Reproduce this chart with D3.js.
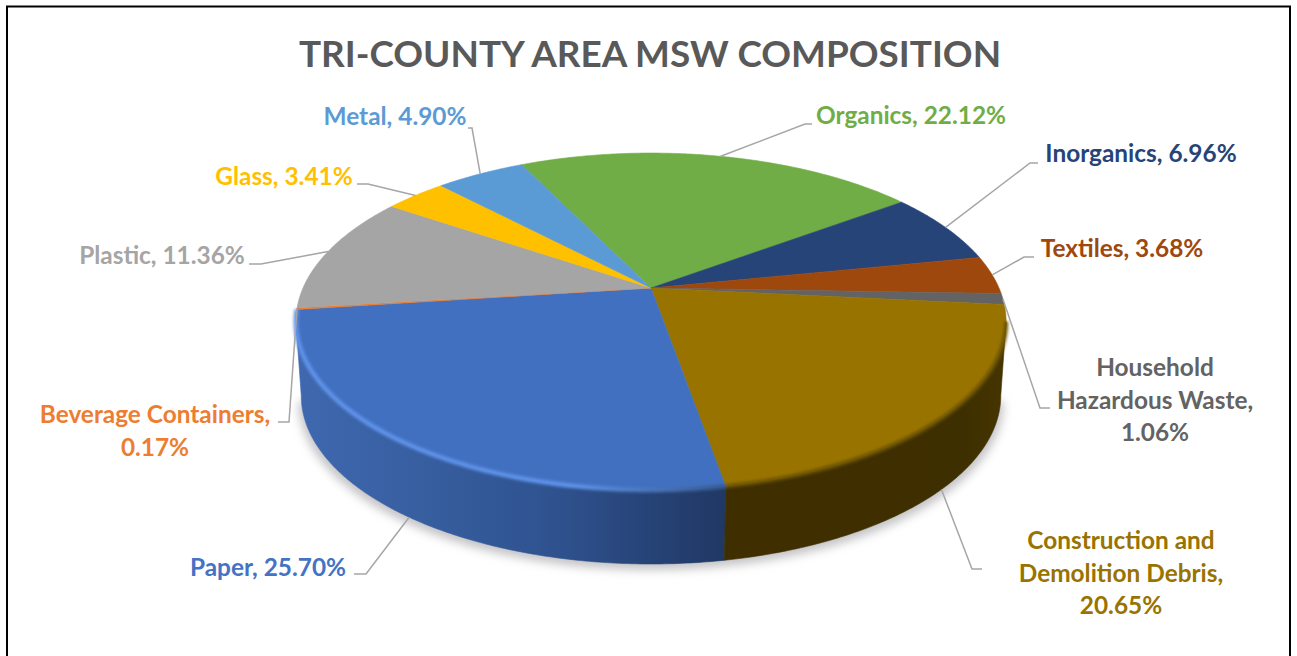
<!DOCTYPE html>
<html>
<head>
<meta charset="utf-8">
<script src="https://cdn.jsdelivr.net/npm/d3@7"></script>
<style>
  html, body { margin: 0; padding: 0; background: #fff; overflow: hidden; }
  text { font-family: Lato, "Open Sans", sans-serif; font-weight: 700; }
</style>
</head>
<body>
<div id="chart"></div>
<script>
const titleText = "TRI-COUNTY AREA MSW COMPOSITION";
const categories = ["Organics", "Inorganics", "Textiles", "Household Hazardous Waste", "Construction and Demolition Debris", "Paper", "Beverage Containers", "Plastic", "Glass", "Metal"];
const percents = [22.12, 6.96, 3.68, 1.06, 20.65, 25.70, 0.17, 11.36, 3.41, 4.90];
const sliceColors = ["#70ad47", "#264478", "#9e480e", "#636363", "#997300", "#4170c0", "#ed7d31", "#a5a5a5", "#ffc000", "#5b9bd5"];
// wrapped label text, same order as categories
const labelLines = [
    ["Organics, 22.12%"], ["Inorganics, 6.96%"], ["Textiles, 3.68%"],
    ["Household", "Hazardous Waste,", "1.06%"],
    ["Construction and", "Demolition Debris,", "20.65%"],
    ["Paper, 25.70%"], ["Beverage Containers,", "0.17%"],
    ["Plastic, 11.36%"], ["Glass, 3.41%"], ["Metal, 4.90%"]
];
// label centre x / first baseline y, then the leader elbow and where it stops
const labelX = [911, 1141, 1122, 1155, 1121, 268, 155, 162, 284, 395];
const labelY = [124, 162, 257, 376, 549, 576, 423, 264, 185, 125];
const elbows = [[805, 124], [1030, 163], [1024, 257], [1040, 408], [972, 569], [366, 574], [289, 422], [261, 264], [368, 184], [472, 128]];
const leaderEnds = [[812, 124], [1038, 163], [1034, 257], [1050, 408], [982, 569], [354, 574], [278, 422], [249, 264], [357, 184], [468, 128]];

const width = 1297, height = 656;

const svg = d3.select("#chart").append("svg")
    .attr("width", width)
    .attr("height", height);

const defs = svg.append("defs");
defs.append("filter").attr("id", "soft").attr("x", "-10%").attr("y", "-10%").attr("width", "120%").attr("height", "120%")
    .append("feGaussianBlur").attr("stdDeviation", 5);
defs.append("filter").attr("id", "rimBlur").attr("x", "-10%").attr("y", "-10%").attr("width", "120%").attr("height", "120%")
    .append("feGaussianBlur").attr("stdDeviation", 1.4);

// Frame, cropped at the bottom edge
svg.append("path")
    .attr("d", `M7,${height}V6.5H1290V${height}`)
    .attr("fill", "none")
    .attr("stroke", "#000")
    .attr("stroke-width", 2);

svg.append("text")
    .attr("x", 650)
    .attr("y", 67)
    .attr("text-anchor", "middle")
    .attr("font-size", 36.9)
    .attr("fill", "#595959")
    .text(titleText);

// Perspective tilt of the disc: the centre sits above the middle of the ellipse
const cx = 651, cy = 288, rx = 348, ry = 161.8, persp = 0.199, depth = 74;

function rim(a, r = 1) {
    const u = Math.sin(a) * r, v = -Math.cos(a) * r;
    const d = 1 - persp * v;
    return [cx + rx * u / d, cy + ry * v / d];
}
function rimBottom(a) {
    const [x, y] = rim(a);
    return [cx + (x - cx) * 0.985, y + depth];
}
function arcPoints(a0, a1, fn = rim) {
    const n = Math.max(2, Math.ceil(Math.abs(a1 - a0) / 0.01));
    return d3.range(n + 1).map(i => fn(a0 + (a1 - a0) * i / n));
}

const toRad = Math.PI / 180;
const pie = d3.pie().sort(null).startAngle(-26 * toRad).endAngle(334 * toRad);
const slices = pie(percents);
const line = d3.line();

// wall is only visible between the two silhouette points
const wallFrom = Math.acos(-persp), wallTo = 2 * Math.PI - Math.acos(-persp);

// Soft shadow under the disc
svg.append("path")
    .attr("d", line(arcPoints(wallFrom, wallTo, a => {
        const [x, y] = rimBottom(a);
        return [x + (x - cx) * 0.008, y + 6];
    })) + "Z")
    .attr("fill", "#c4c4c7")
    .attr("filter", "url(#soft)");

// Side gradients
const paperWall = defs.append("linearGradient").attr("id", "paperWall")
    .attr("gradientUnits", "userSpaceOnUse")
    .attr("x1", 296).attr("x2", 724).attr("y1", 0).attr("y2", 0);
[[0, "#3f68b0"], [0.3, "#375e9f"], [0.6, "#2f528f"], [1, "#203864"]].forEach(([o, c]) => {
    paperWall.append("stop").attr("offset", o).attr("stop-color", c);
});
const debrisWall = defs.append("linearGradient").attr("id", "debrisWall")
    .attr("gradientUnits", "userSpaceOnUse")
    .attr("x1", 724).attr("x2", 1006).attr("y1", 0).attr("y2", 0);
[[0, "#3e2e00"], [0.85, "#3e2f00"], [1, "#463500"]].forEach(([o, c]) => {
    debrisWall.append("stop").attr("offset", o).attr("stop-color", c);
});
const wallFill = { 4: "url(#debrisWall)", 5: "url(#paperWall)" };

// Side walls of the front slices
const wallGroup = svg.append("g");
[5, 4].forEach(i => {
    const s = slices[i];
    const a0 = Math.max(s.startAngle, wallFrom), a1 = Math.min(s.endAngle, wallTo);
    const pts = arcPoints(a0, a1).concat(arcPoints(a1, a0, rimBottom));
    wallGroup.append("path")
        .attr("d", line(pts) + "Z")
        .attr("fill", wallFill[i])
        .attr("stroke", wallFill[i])
        .attr("stroke-width", 0.6);
});

// Top face, thin same-colour stroke hides the seams between slices
const topFace = svg.append("g");
topFace.selectAll("path")
    .data(slices)
    .join("path")
    .attr("d", d => line([[cx, cy]].concat(arcPoints(d.startAngle, d.endAngle))) + "Z")
    .attr("fill", (d, i) => sliceColors[i])
    .attr("stroke", (d, i) => sliceColors[i])
    .attr("stroke-width", 0.6);

// Bevel along the rim: bright on the paper slice, dull on the debris slice
const paperRim = defs.append("linearGradient").attr("id", "paperRim")
    .attr("gradientUnits", "userSpaceOnUse")
    .attr("x1", 296).attr("x2", 724).attr("y1", 0).attr("y2", 0);
[[0, "#5f93ea"], [0.65, "#5f93ea"], [1, "#35598f"]].forEach(([o, c]) => {
    paperRim.append("stop").attr("offset", o).attr("stop-color", c);
});
const bevel = svg.append("g").attr("fill", "none").attr("filter", "url(#rimBlur)");
bevel.append("path")
    .attr("d", line(arcPoints(slices[5].startAngle, slices[5].endAngle)))
    .attr("stroke", "url(#paperRim)")
    .attr("stroke-width", 4.5);
bevel.append("path")
    .attr("d", line(arcPoints(wallFrom, slices[4].endAngle)))
    .attr("stroke", "#6b5200")
    .attr("stroke-width", 4);

// Leader lines run from the middle of each slice's outer edge
const leaders = svg.append("g")
    .attr("fill", "none")
    .attr("stroke", "#a6a6a6")
    .attr("stroke-width", 1.5);
slices.forEach((s, i) => {
    const mid = (s.startAngle + s.endAngle) / 2;
    const onFrontWall = i === 4 || i === 5;
    const start = onFrontWall ? rimBottom(mid) : rim(mid);
    leaders.append("path").attr("d", line([start, elbows[i], leaderEnds[i]]));
});

// Data labels
const labels = svg.append("g")
    .attr("font-size", 24.4)
    .attr("text-anchor", "middle");
categories.forEach((name, i) => {
    const t = labels.append("text")
        .attr("x", labelX[i])
        .attr("y", labelY[i])
        .attr("fill", sliceColors[i] === "#4170c0" ? "#4472c4" : sliceColors[i]);
    labelLines[i].forEach((txt, j) => {
        t.append("tspan")
            .attr("x", labelX[i])
            .attr("y", labelY[i] + j * 32.7)
            .text(txt);
    });
});
</script>
</body>
</html>
